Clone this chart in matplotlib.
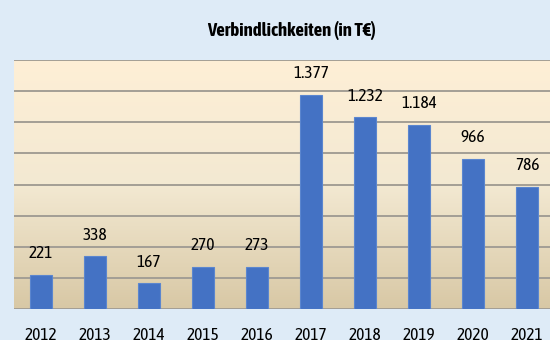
import matplotlib
matplotlib.use("Agg")
import matplotlib.pyplot as plt
import numpy as np
from matplotlib.colors import LinearSegmentedColormap

years = ["2012", "2013", "2014", "2015", "2016", "2017", "2018", "2019", "2020", "2021"]
values = [221, 338, 167, 270, 273, 1377, 1232, 1184, 966, 786]
value_labels = ["221", "338", "167", "270", "273", "1.377", "1.232", "1.184", "966", "786"]

plt.rcParams["font.family"] = ["Asap Condensed", "Lato", "DejaVu Sans"]

fig = plt.figure(figsize=(5.5, 3.4), dpi=100)
fig.patch.set_facecolor("#DEEBF7")

ax = fig.add_axes([14 / 550, 31 / 340, 540 / 550, 249 / 340])
ax.set_xlim(-0.5, len(years) - 0.5)
ax.set_ylim(0, 1600)

# plot-area gradient: light peach at the top fading to tan at the bottom
grad = LinearSegmentedColormap.from_list("bg", ["#D8C8A5", "#F3E9D2", "#FEEFD6"])
ax.imshow(np.linspace(0, 1, 256).reshape(-1, 1), cmap=grad, aspect="auto",
          extent=(-0.5, len(years) - 0.5, 0, 1600), origin="lower", zorder=0)

for y in range(0, 1601, 200):
    ax.axhline(y, color="#A39E95", lw=1.4, zorder=1)

x = np.arange(len(years))
ax.bar(x, values, width=0.41, color="#4472C4", edgecolor="#5B86CF", linewidth=0.8, zorder=2)

for xi, v, lab in zip(x, values, value_labels):
    ax.annotate(lab, (xi, v), xytext=(0, 9), textcoords="offset points",
                ha="center", va="bottom", fontsize=12.5, color="#000000")

ax.set_xticks(x)
ax.set_xticklabels(years, fontsize=12.5)
ax.tick_params(axis="x", length=0, pad=13)
ax.set_yticks([])
for s in ax.spines.values():
    s.set_visible(False)

fig.text(291 / 550, 1 - 30 / 340, "Verbindlichkeiten (in T€)", ha="center", va="center",
         fontsize=13.5, fontweight="bold")

fig.savefig("out.png", dpi=100, facecolor=fig.get_facecolor())
